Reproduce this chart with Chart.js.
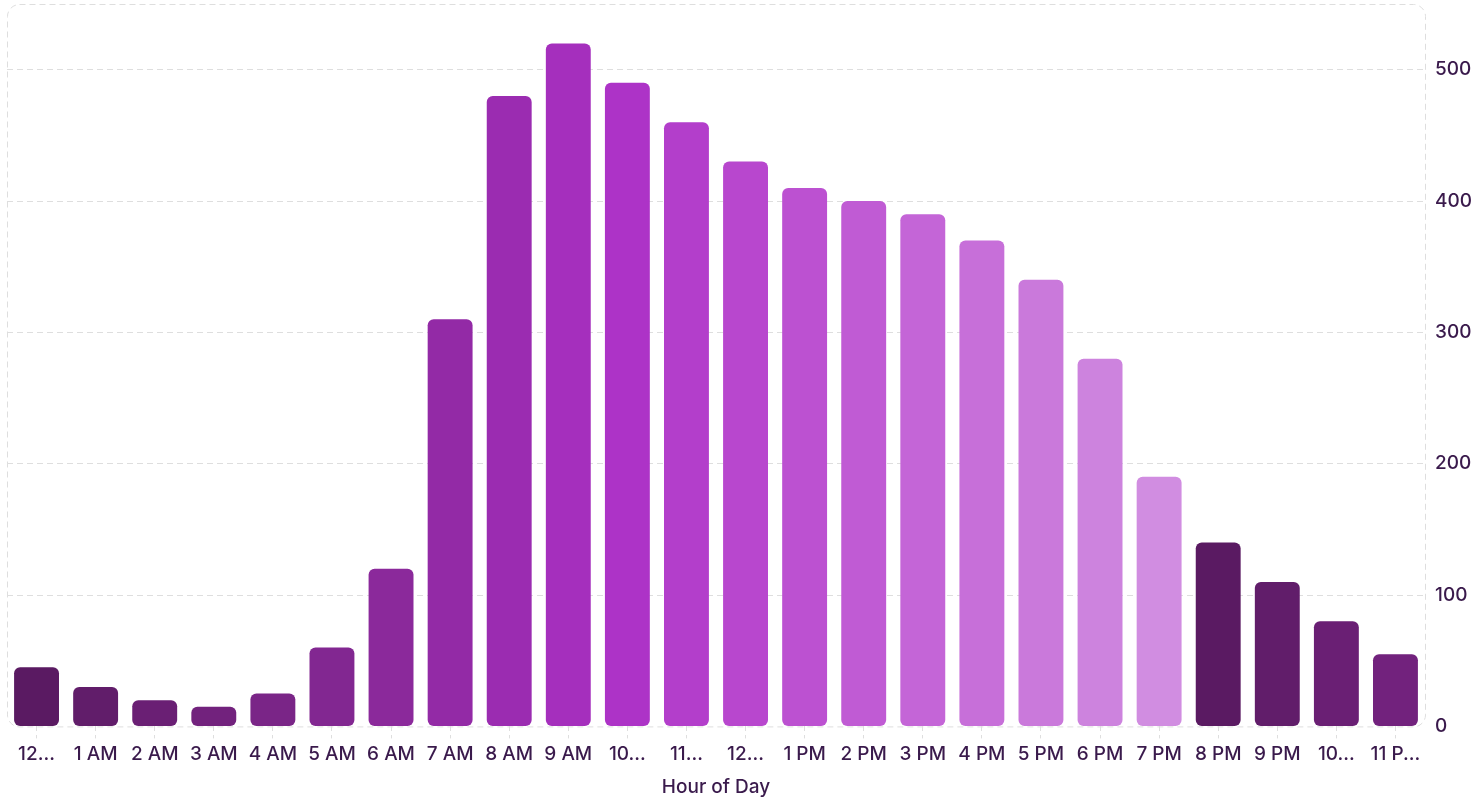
<!DOCTYPE html>
<html>
<head>
<meta charset="utf-8">
<title>Activity by Hour of Day</title>
<script src="https://cdn.jsdelivr.net/npm/chart.js@4.4.1/dist/chart.umd.min.js"></script>
<style>
  html, body { margin: 0; padding: 0; background: #ffffff; }
  #wrap { width: 1473px; height: 799px; position: relative; }
</style>
</head>
<body>
<div id="wrap"><canvas id="chart"></canvas></div>
<script>
// Hourly values
const hours = ["12 AM", "1 AM", "2 AM", "3 AM", "4 AM", "5 AM", "6 AM", "7 AM", "8 AM", "9 AM", "10 AM", "11 AM",
               "12 PM", "1 PM", "2 PM", "3 PM", "4 PM", "5 PM", "6 PM", "7 PM", "8 PM", "9 PM", "10 PM", "11 PM"];
const hourLabels = ["12...", "1 AM", "2 AM", "3 AM", "4 AM", "5 AM", "6 AM", "7 AM", "8 AM", "9 AM", "10...", "11...",
                    "12...", "1 PM", "2 PM", "3 PM", "4 PM", "5 PM", "6 PM", "7 PM", "8 PM", "9 PM", "10...", "11 P..."];
const counts = [45, 30, 20, 15, 25, 60, 120, 310, 480, 520, 490, 460,
                430, 410, 400, 390, 370, 340, 280, 190, 140, 110, 80, 55];
const yTicks = [0, 100, 200, 300, 400, 500];

// Purple ramp, one shade per bar, restarting after twenty shades
const palette = ["#5a1a62", "#611d6a", "#6a1f74", "#72227d", "#7a2587", "#822791", "#8b299b", "#932aa6",
                 "#9b2cb1", "#a52fbd", "#ad33c7", "#b33ecb", "#b847ce", "#bc51d1", "#c05bd4", "#c465d7",
                 "#c76fd9", "#ca79db", "#cd83de", "#d18de1"];
const barColors = counts.map((_, i) => palette[i % palette.length]);

const textColor = "#3a1a4c";
const lineColor = "#dedede";
const tickFont = { family: "Inter", size: 19, weight: "500" };

// Dashed rounded frame around the plotting area
const frame = {
  id: "frame",
  beforeDatasetsDraw(chart) {
    const { ctx, chartArea: a } = chart;
    ctx.save();
    ctx.strokeStyle = lineColor;
    ctx.lineWidth = 1;
    ctx.setLineDash([6, 4]);
    ctx.beginPath();
    ctx.roundRect(a.left + 0.5, a.top + 0.5, a.right - a.left, a.bottom - a.top, 12);
    ctx.stroke();
    ctx.restore();
  }
};

new Chart(document.getElementById("chart"), {
  type: "bar",
  data: {
    labels: hours,
    datasets: [{
      label: "Count",
      data: counts,
      backgroundColor: barColors,
      borderRadius: 6,
      borderSkipped: false,
      barPercentage: 0.76,
      categoryPercentage: 1
    }]
  },
  options: {
    responsive: true,
    maintainAspectRatio: false,
    animation: false,
    layout: { padding: { top: 4, left: 7, right: 0, bottom: 0 } },
    plugins: {
      legend: { display: false },
      tooltip: { enabled: false }
    },
    scales: {
      x: {
        grid: {
          offset: false,
          drawOnChartArea: false,
          drawTicks: true,
          tickLength: 12,
          color: lineColor,
          tickBorderDash: [5, 4]
        },
        border: { display: false },
        ticks: {
          autoSkip: false,
          maxRotation: 0,
          color: textColor,
          padding: 4,
          font: tickFont,
          callback: (v, i) => hourLabels[i]
        },
        title: {
          display: true,
          text: "Hour of Day",
          color: textColor,
          font: tickFont,
          padding: { top: 7, bottom: 0 }
        }
      },
      y: {
        position: "right",
        min: 0,
        max: 550,
        afterBuildTicks: (scale) => { scale.ticks = yTicks.map(v => ({ value: v })); },
        afterFit: (scale) => { scale.paddingTop = 0; scale.width = 48; },
        grid: {
          drawTicks: false,
          color: (c) => (c.tick && c.tick.value > 0 && c.tick.value < 550) ? lineColor : "rgba(0,0,0,0)"
        },
        border: { display: false, dash: [6, 4] },
        ticks: {
          color: textColor,
          padding: 10,
          font: tickFont
        }
      }
    }
  },
  plugins: [frame]
});
</script>
</body>
</html>
